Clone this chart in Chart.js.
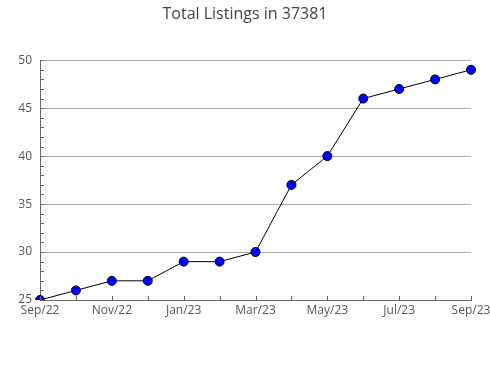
<!DOCTYPE html>
<html><head><meta charset="utf-8">
<script src="https://cdn.jsdelivr.net/npm/chart.js@4/dist/chart.umd.min.js"></script>
<style>html,body{margin:0;padding:0;background:#fff}#wrap{width:490px;height:380px}</style>
</head><body><div id="wrap"><canvas id="c" width="490" height="380"></canvas></div>
<script>
const months = ["Sep/22","Oct/22","Nov/22","Dec/22","Jan/23","Feb/23","Mar/23","Apr/23","May/23","Jun/23","Jul/23","Aug/23","Sep/23"];
const listings = [25,26,27,27,29,29,30,37,40,46,47,48,49];
const yMin = 25, yMax = 50, yStep = 5;

const innerTicks = {
  id: 'innerTicks',
  afterDraw(chart) {
    const ctx = chart.ctx, x = chart.scales.x, y = chart.scales.y;
    const area = chart.chartArea;
    ctx.save();
    ctx.strokeStyle = '#666';
    ctx.lineWidth = 1;
    ctx.beginPath();
    for (let i = 0; i < months.length; i++) {
      const px = Math.round(x.getPixelForValue(i)) + 0.5;
      ctx.moveTo(px, area.bottom);
      ctx.lineTo(px, area.bottom - 4);
    }
    for (let v = yMin; v <= yMax; v++) {
      const py = Math.round(y.getPixelForValue(v)) + 0.5;
      ctx.moveTo(area.left, py);
      ctx.lineTo(area.left + 4, py);
    }
    ctx.stroke();
    ctx.restore();
  }
};

new Chart(document.getElementById('c'), {
  type: 'line',
  data: {
    labels: months,
    datasets: [{
      data: listings,
      borderColor: '#000',
      borderWidth: 1,
      backgroundColor: '#0000ff',
      pointBackgroundColor: '#0000ff',
      pointBorderColor: '#000',
      pointBorderWidth: 1,
      pointRadius: 4.5,
      tension: 0,
      fill: false
    }]
  },
  options: {
    responsive: false,
    animation: false,
    layout: { padding: { left: 0, right: 0, top: 0, bottom: 0 } },
    plugins: {
      legend: { display: false },
      tooltip: { enabled: false },
      title: {
        display: true,
        text: 'Total Listings in 37381',
        color: '#444',
        font: { family: 'Open Sans', size: 16, weight: 'normal', lineHeight: 1.2 },
        padding: { top: 5, bottom: 36 }
      }
    },
    scales: {
      x: {
        type: 'category',
        offset: false,
        grid: { display: true, drawOnChartArea: false, drawTicks: false, color: '#666' },
        border: { display: true, color: '#666' },
        ticks: {
          autoSkip: false, maxRotation: 0, padding: 3,
          color: '#555',
          font: { family: 'Open Sans', size: 12 },
          callback: (v, i) => (i % 2 === 0 ? months[i] : '')
        },
        afterFit(s) { s.height = 80; s.paddingRight = 19; }
      },
      y: {
        min: yMin, max: yMax,
        grid: { color: '#aaa', drawTicks: false },
        border: { display: true, color: '#666' },
        ticks: {
          stepSize: yStep, padding: 8,
          color: '#555',
          font: { family: 'Open Sans', size: 12 }
        },
        afterFit(s) { s.width = 40; }
      }
    }
  },
  plugins: [innerTicks]
});
</script></body></html>
